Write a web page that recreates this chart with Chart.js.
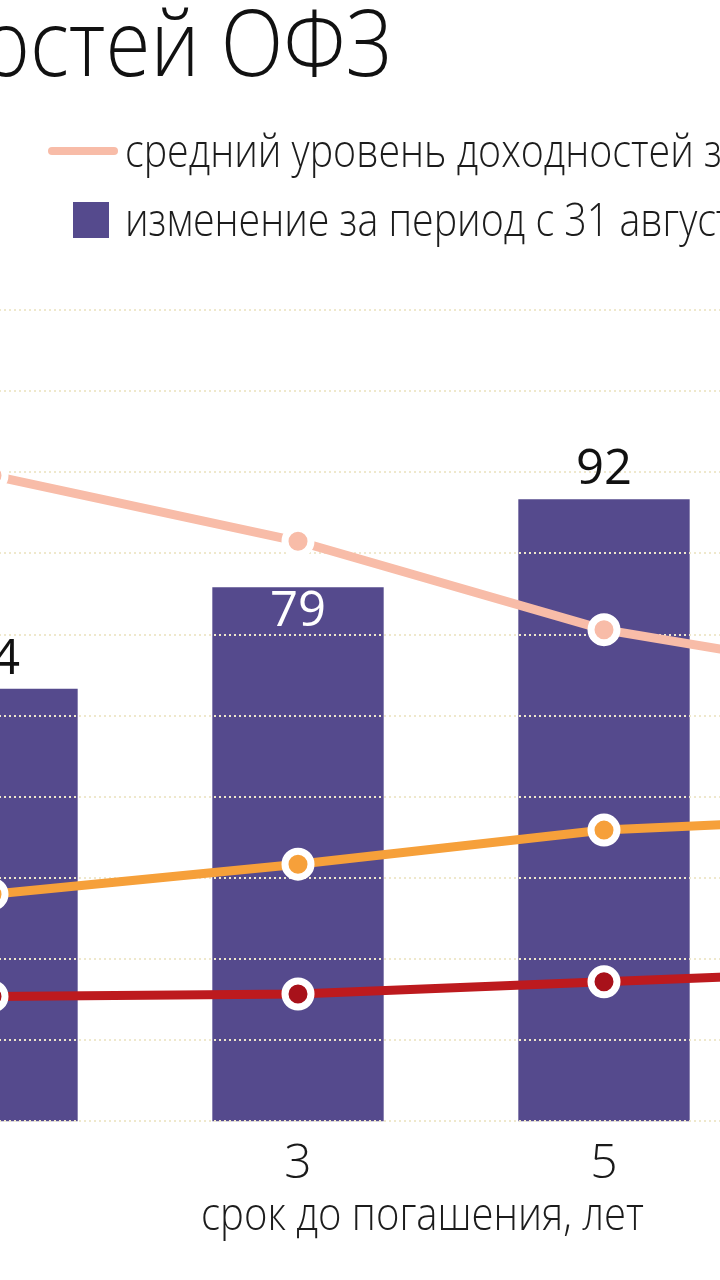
<!DOCTYPE html>
<html lang="ru">
<head>
<meta charset="utf-8">
<script src="https://cdn.jsdelivr.net/npm/chart.js@4.4.1/dist/chart.umd.min.js"></script>
<style>
  html, body {
    margin: 0;
    padding: 0;
    width: 720px;
    height: 1280px;
    overflow: hidden;
    background: #fff;
    font-family: "Open Sans", sans-serif;
    font-weight: 300;
    color: #111;
  }
  .narrow {
    display: inline-block;
    white-space: nowrap;
  }
  #title {
    position: absolute;
    right: 328px;
    top: -14px;
    font-size: 92px;
    line-height: 1.2;
    white-space: nowrap;
  }
  #title .narrow { transform: scaleX(0.89); transform-origin: right top; }
  .legend-text {
    position: absolute;
    left: 125px;
    font-size: 46px;
    line-height: 1.2;
    white-space: nowrap;
    color: #1c1c1c;
  }
  .legend-text .narrow { transform: scaleX(0.855); transform-origin: left top; }
  #swatch-line {
    position: absolute;
    left: 48px;
    top: 147px;
    width: 70px;
    height: 8px;
    border-radius: 4px;
    background: #f8bca8;
  }
  #swatch-bar {
    position: absolute;
    left: 73px;
    top: 202px;
    width: 36px;
    height: 36px;
    background: #554a8d;
  }
  #xtitle {
    position: absolute;
    left: 122px;
    width: 600px;
    top: 1185px;
    font-size: 46px;
    line-height: 1.2;
    text-align: center;
    white-space: nowrap;
    color: #1c1c1c;
  }
  #xtitle .narrow { transform: scaleX(0.87); transform-origin: center top; }
  #wrap {
    position: absolute;
    left: -222px;
    top: 0;
    width: 1305px;
    height: 1280px;
  }
</style>
</head>
<body>
<div id="wrap"><canvas id="chart"></canvas></div>
<div id="title"><span class="narrow">доходностей ОФЗ</span></div>
<div id="swatch-line"></div>
<div class="legend-text" style="top:122px"><span class="narrow">средний уровень доходностей за август</span></div>
<div id="swatch-bar"></div>
<div class="legend-text" style="top:191px"><span class="narrow">изменение за период с 31 августа, б.п.</span></div>
<div id="xtitle"><span class="narrow">срок до погашения, лет</span></div>

<script>
// срок до погашения, лет
const maturities = ['1', '3', '5', '7'];

// изменение доходности, б.п. (столбцы)
const changeBp = [64, 79, 92, 98];
// подпись внутри столбца или над ним
const labelInside = [false, true, false, false];

// уровни доходностей, %
const avgYield = [7.96, 7.15, 6.06, 5.43];
const yieldOrange = [2.80, 3.17, 3.59, 3.76];
const yieldRed = [1.54, 1.57, 1.72, 1.87];

// линии сетки по оси столбцов
const gridValues = [0, 12, 24, 36, 48, 60, 72, 84, 96, 108, 120];

const FONT = '"Open Sans", sans-serif';

// сетка рисуется поверх столбцов, но под линиями
const gridOverBars = {
    id: 'gridOverBars',
    afterDatasetDraw(chart, args) {
        if (args.index !== 0) return;
        const { ctx, chartArea } = chart;
        const yScale = chart.scales.y;
        ctx.save();
        ctx.strokeStyle = '#efe8cc';
        ctx.lineWidth = 2;
        ctx.setLineDash([2, 3]);
        gridValues.forEach(v => {
            const y = Math.round(yScale.getPixelForValue(v));
            ctx.beginPath();
            ctx.moveTo(chartArea.left, y);
            ctx.lineTo(chartArea.right, y);
            ctx.stroke();
        });
        ctx.restore();
    }
};

const barLabels = {
    id: 'barLabels',
    afterDatasetsDraw(chart) {
        const { ctx } = chart;
        const meta = chart.getDatasetMeta(0);
        ctx.save();
        ctx.textAlign = 'center';
        ctx.textBaseline = 'alphabetic';
        meta.data.forEach((bar, i) => {
            const inside = labelInside[i];
            ctx.font = '400 49px ' + FONT;
            ctx.fillStyle = inside ? '#ffffff' : '#111111';
            const y = inside ? bar.y + 39 : bar.y - 15;
            ctx.fillText(String(changeBp[i]), bar.x, y);
        });
        ctx.restore();
    }
};

new Chart(document.getElementById('chart'), {
    data: {
        labels: maturities,
        datasets: [
            {
                type: 'bar',
                label: 'изменение за период с 31 августа',
                data: changeBp,
                yAxisID: 'y',
                backgroundColor: '#554a8d',
                borderWidth: 0,
                categoryPercentage: 0.56,
                barPercentage: 1,
                order: 10
            },
            {
                type: 'line',
                label: 'средний уровень доходностей',
                data: avgYield,
                yAxisID: 'y1',
                borderColor: '#f8bca8',
                borderWidth: 9,
                pointRadius: 13,
                pointBorderWidth: 7,
                pointBackgroundColor: '#f8bca8',
                pointBorderColor: '#ffffff',
                tension: 0,
                order: 3
            },
            {
                type: 'line',
                label: 'доходность 2',
                data: yieldOrange,
                yAxisID: 'y1',
                borderColor: '#f6a03a',
                borderWidth: 9,
                pointRadius: 13,
                pointBorderWidth: 7,
                pointBackgroundColor: '#f6a03a',
                pointBorderColor: '#ffffff',
                tension: 0,
                order: 2
            },
            {
                type: 'line',
                label: 'доходность 3',
                data: yieldRed,
                yAxisID: 'y1',
                borderColor: '#bd1a1e',
                borderWidth: 9,
                pointRadius: 13,
                pointBorderWidth: 7,
                pointBackgroundColor: '#a8111a',
                pointBorderColor: '#ffffff',
                tension: 0,
                order: 1
            }
        ]
    },
    options: {
        responsive: true,
        maintainAspectRatio: false,
        animation: false,
        layout: {
            padding: { top: 310, left: 61, right: 0, bottom: 73 }
        },
        plugins: {
            legend: { display: false },
            tooltip: { enabled: false }
        },
        scales: {
            x: {
                type: 'category',
                offset: true,
                grid: { display: false, drawTicks: false },
                border: { display: false },
                ticks: {
                    color: '#1a1a1a',
                    padding: 14,
                    font: { family: FONT, size: 48, weight: '300', lineHeight: 1.2 }
                }
            },
            y: {
                display: false,
                min: 0,
                max: 120
            },
            y1: {
                display: false,
                position: 'right',
                min: 0,
                max: 10
            }
        }
    },
    plugins: [gridOverBars, barLabels]
});
</script>
</body>
</html>
